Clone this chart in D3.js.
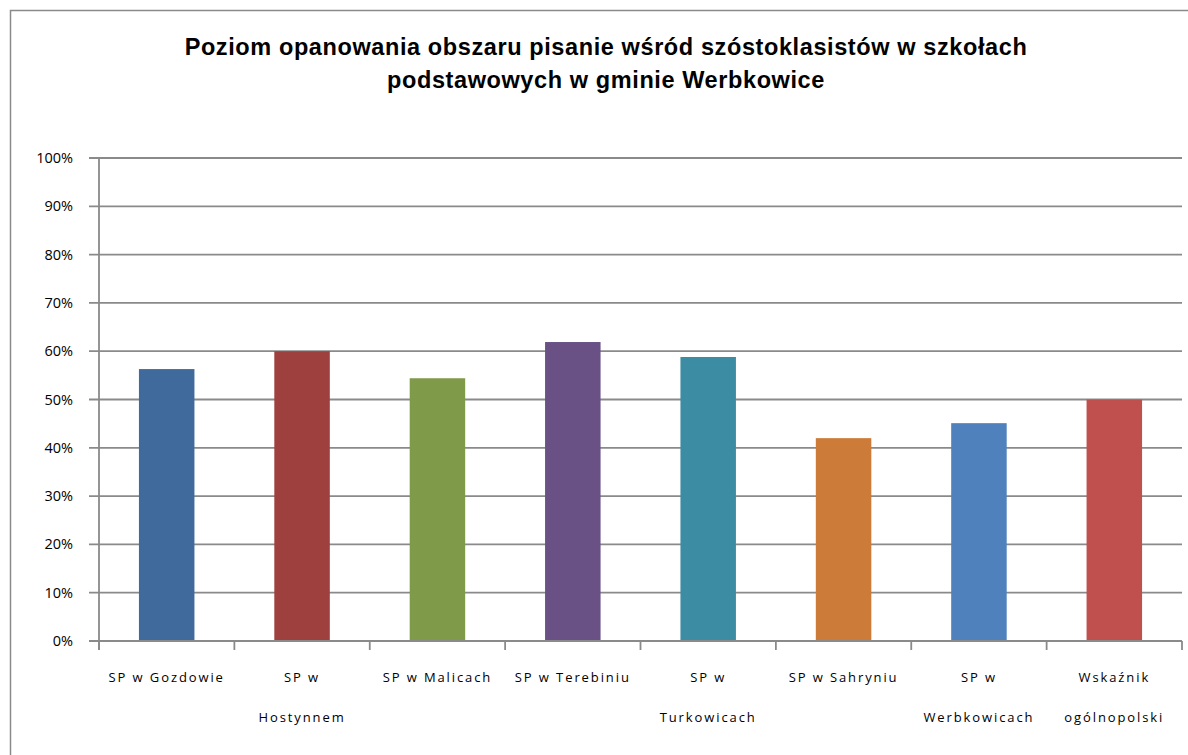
<!DOCTYPE html>
<html><head><meta charset="utf-8">
<script src="https://cdn.jsdelivr.net/npm/d3@7"></script>
<style>body{margin:0;background:#fff}svg{display:block}</style>
</head><body>
<svg id="c" width="1188" height="755"></svg>
<script>
const categories = [
  ["SP w Gozdowie"],
  ["SP w", "Hostynnem"],
  ["SP w Malicach"],
  ["SP w Terebiniu"],
  ["SP w", "Turkowicach"],
  ["SP w Sahryniu"],
  ["SP w", "Werbkowicach"],
  ["Wskaźnik", "ogólnopolski"]
];
const values = [56.3, 60, 54.4, 61.9, 58.8, 42, 45.1, 50];
const colors = ["#416A9C", "#9E413E", "#7F9A48", "#695185", "#3C8DA3", "#CC7B38", "#4F81BD", "#C0504D"];
const yTicks = [0,10,20,30,40,50,60,70,80,90,100];
const titleLines = ["Poziom opanowania obszaru pisanie wśród szóstoklasistów w szkołach", "podstawowych w gminie Werbkowice"];

const svg = d3.select("#c");
svg.append("rect").attr("x",10.5).attr("y",10.5).attr("width",1300).attr("height",900)
  .attr("fill","#fff").attr("stroke","#8a8a8a").attr("stroke-width",1.5);

const m = {l:99, r:1182, t:158, b:641};
const x = d3.scaleBand().domain(d3.range(categories.length)).range([m.l, m.r]).paddingInner(0).paddingOuter(0);
const y = d3.scaleLinear().domain([0,100]).range([m.b, m.t]);

// gridlines
svg.append("g").selectAll("line").data(yTicks).join("line")
  .attr("x1", 89).attr("x2", m.r).attr("y1", d=>y(d)).attr("y2", d=>y(d))
  .attr("stroke","#8a8a8a").attr("stroke-width",1.8);

// y labels
svg.append("g").selectAll("text").data(yTicks).join("text")
  .attr("x", 73).attr("y", d=>y(d)+5).attr("text-anchor","end")
  .attr("font-family","'Open Sans', 'Liberation Sans', sans-serif").attr("font-size",14.5).attr("fill","#000")
  .text(d=>d+"%");

// bars
const bw = x.bandwidth()*0.41;
svg.append("g").selectAll("rect").data(values).join("rect")
  .attr("x",(d,i)=>x(i)+x.bandwidth()/2-bw/2).attr("width",bw)
  .attr("y",d=>y(d)).attr("height",d=>y(0)-y(d))
  .attr("fill",(d,i)=>colors[i]);

// axes
svg.append("line").attr("x1",m.l).attr("x2",m.l).attr("y1",m.t).attr("y2",m.b+9)
  .attr("stroke","#8a8a8a").attr("stroke-width",1.8);
svg.append("line").attr("x1",89).attr("x2",m.r).attr("y1",m.b).attr("y2",m.b)
  .attr("stroke","#8a8a8a").attr("stroke-width",1.8);
const tickX = d3.range(categories.length+1).map(i => i<categories.length ? x(i) : m.r);
svg.append("g").selectAll("line").data(tickX).join("line")
  .attr("x1",d=>d).attr("x2",d=>d).attr("y1",m.b).attr("y2",m.b+9)
  .attr("stroke","#8a8a8a").attr("stroke-width",1.8);

// category labels
const lab = svg.append("g").selectAll("text").data(categories).join("text")
  .attr("text-anchor","middle")
  .attr("font-family","'Open Sans', 'Liberation Sans', sans-serif").attr("font-size",13)
  .attr("letter-spacing","1.9px").attr("fill","#000");
lab.each(function(d,i){
  const t = d3.select(this);
  d.forEach((s,j)=>{
    t.append("tspan").attr("x", x(i)+x.bandwidth()/2).attr("y", 682 + j*40).text(s);
  });
});

// title
svg.append("g").selectAll("text").data(titleLines).join("text")
  .attr("x",606).attr("y",(d,i)=>55+i*33).attr("text-anchor","middle")
  .attr("font-family","'Liberation Sans', Arial, sans-serif").attr("font-weight","bold").attr("font-size",23.5)
  .attr("letter-spacing","0.6px")
  .attr("fill","#000").text(d=>d);
</script>
</body></html>
